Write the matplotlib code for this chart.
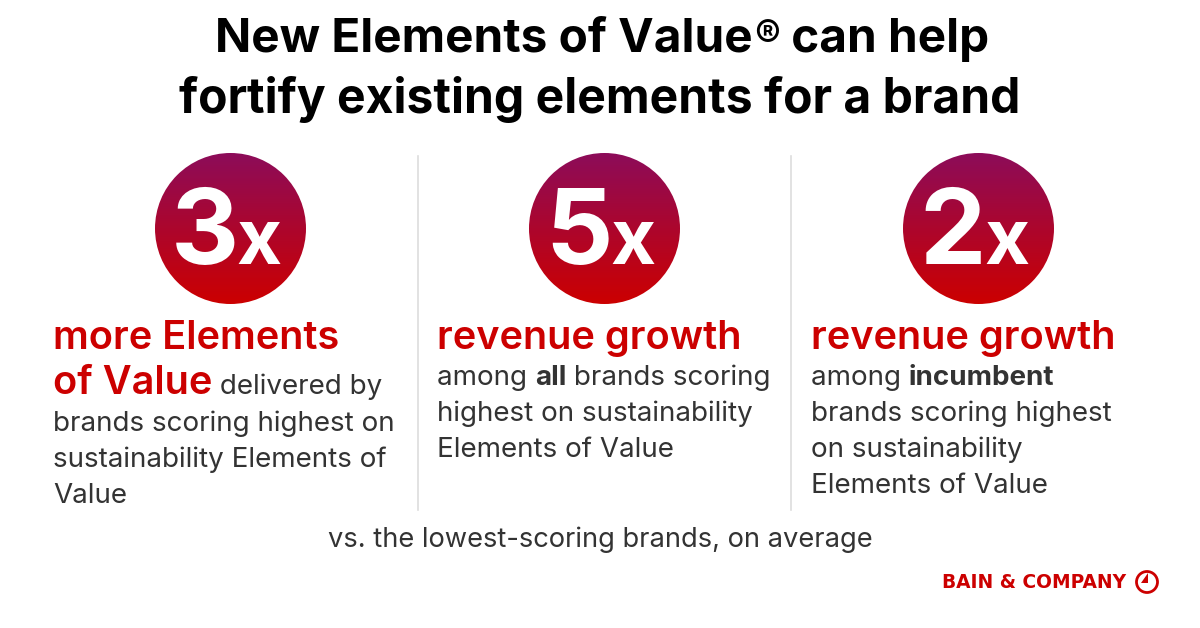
import numpy as np
import matplotlib
matplotlib.use("Agg")
import matplotlib.pyplot as plt
from matplotlib.patches import Circle, Polygon

FONT = "Inter"
RED = "#cc0000"
DARK = "#333333"
title_first = ["New Elements of Value", "®", " can help"]
title_second = "fortify existing elements for a brand"
multipliers = ["3", "5", "2"]
footer = "vs. the lowest-scoring brands, on average"
brand = "BAIN & COMPANY"
col1 = [[("more Elements", "h")],
        [("of Value", "h"), (" delivered by", "n")],
        [("brands scoring highest on", "n")],
        [("sustainability Elements of", "n")],
        [("Value", "n")]]
col2 = [[("revenue growth", "h")],
        [("among ", "n"), ("all", "b"), (" brands scoring", "n")],
        [("highest on sustainability", "n")],
        [("Elements of Value", "n")]]
col3 = [[("revenue growth", "h")],
        [("among ", "n"), ("incumbent", "b")],
        [("brands scoring highest", "n")],
        [("on sustainability", "n")],
        [("Elements of Value", "n")]]
columns = [col1, col2, col3]

fig = plt.figure(figsize=(12, 6.28), dpi=100)
ax = fig.add_axes([0, 0, 1, 1])
ax.set_xlim(0, 1200); ax.set_ylim(628, 0); ax.axis("off")
r = fig.canvas.get_renderer()

def rich(x, y, parts):
    for s, k in parts:
        st = {"h": dict(size=28.6, weight="semibold", color=RED),
              "n": dict(size=20, weight="normal", color=DARK),
              "b": dict(size=20, weight="bold", color=DARK)}[k]
        t = ax.text(x, y, s.replace(" ", "\u00a0"), family=FONT, va="baseline", ha="left", **st)
        x = t.get_window_extent(r).x1

# first title line, with a smaller registered-trademark sign
x = 215
for s, size, y in zip(title_first, (34.3, 28, 34.3), (52, 48.5, 52)):
    t = ax.text(x, y, s.replace(" ", "\u00a0"), family=FONT, size=size, weight="bold", color="black", ha="left", va="baseline")
    x = t.get_window_extent(r).x1 + 1
ax.text(600, 113, title_second, family=FONT, size=34.6, weight="bold", color="black", ha="center", va="baseline")

for x in (418, 791):
    ax.plot([x, x], [156, 510], color="#dddddd", lw=1.2)

cx = [230.5, 604.5, 978.5]
grad = np.linspace(0, 1, 256)[:, None, None]
top = np.array([0x8c, 0x0c, 0x5a])[None, None, :] / 255
bot = np.array([0xcc, 0x00, 0x00])[None, None, :] / 255
img = top * (1 - grad) + bot * grad
for c, m in zip(cx, multipliers):
    im = ax.imshow(img, extent=(c - 76, c + 76, 304, 152), aspect="auto", zorder=2)
    p = Circle((c, 228.5), 75.5, transform=ax.transData, fc="none", ec="none")
    ax.add_patch(p); im.set_clip_path(p)
    ax.text(c - 26, 264, m, family=FONT, size=76, weight="bold", color="white", ha="center", va="baseline", zorder=3)
    ax.text(c + 28, 264, "x", family=FONT, size=56, weight="bold", color="white", ha="center", va="baseline", zorder=3)
ax.set_xlim(0, 1200); ax.set_ylim(628, 0)

xs = [53, 437, 811]
ys = [[349, 394.5, 431, 467, 503], [349, 385, 421, 457], [349, 385, 421, 457, 493]]
for x, col, yy in zip(xs, columns, ys):
    for line, y in zip(col, yy):
        rich(x, y, line)

ax.text(600, 547, footer, family=FONT, size=19.65, color=DARK, ha="center", va="baseline")
ax.text(1126, 587.5, brand, family="DejaVu Sans", size=13.4, weight="bold", color=RED, ha="right", va="baseline")
ax.add_patch(Circle((1147, 582), 10.5, fc="none", ec=RED, lw=2))
ax.add_patch(Polygon([(1148, 573), (1148, 583), (1141, 583)], fc=RED, ec="none"))
fig.savefig("out.png", dpi=100, facecolor="white")
